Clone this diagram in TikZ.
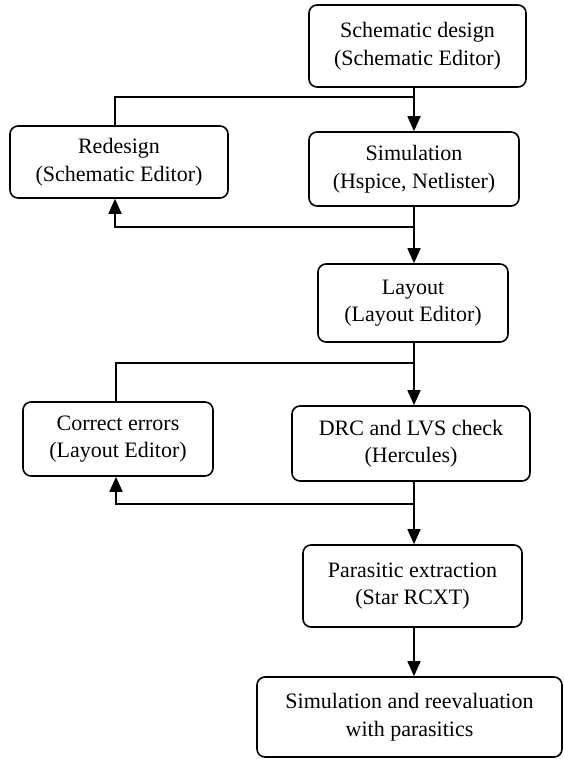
\documentclass[tikz,border=0pt]{standalone}
\usepackage{fontspec}
\setmainfont{Liberation Serif}
\newfontfamily\tnrfont{Liberation Serif}
\usetikzlibrary{arrows.meta}
\begin{document}
\begin{tikzpicture}[x=1pt,y=-1pt,
  box/.style={draw, line width=1.6pt, rounded corners=8pt, align=center,
    font=\tnrfont\fontsize{22}{27.5}\selectfont, inner sep=0pt,
    execute at begin node={\rule{0pt}{27pt}}},
  conn/.style={line width=1.6pt},
  arr/.style={conn, -{Triangle[length=15pt,width=13pt]}}]
\useasboundingbox (0,0) rectangle (563,759);

\node[box, minimum width=217pt, minimum height=82pt] (sch) at (417.5,46) {Schematic design\\(Schematic Editor)};
\node[box, minimum width=210pt, minimum height=74pt] (sim) at (414,169) {Simulation\\(Hspice, Netlister)};
\node[box, minimum width=218pt, minimum height=72pt] (red) at (119,162) {Redesign\\(Schematic Editor)};
\node[box, minimum width=190pt, minimum height=78pt] (lay) at (413,303) {Layout\\(Layout Editor)};
\node[box, minimum width=190pt, minimum height=74pt] (cor) at (118,439) {Correct errors\\(Layout Editor)};
\node[box, minimum width=238pt, minimum height=75pt] (drc) at (411,443.5) {DRC and LVS check\\(Hercules)};
\node[box, minimum width=219pt, minimum height=82pt] (par) at (412.5,586) {Parasitic extraction\\(Star RCXT)};
\node[box, minimum width=305pt, minimum height=80pt] (fin) at (409.5,717) {Simulation and reevaluation\\with parasitics};

\coordinate (j1) at (414,97);
\coordinate (l1) at (115,97);
\coordinate (j2) at (414,227);
\coordinate (l2) at (115,227);
\coordinate (j3) at (414,363);
\coordinate (l3) at (116,363);
\coordinate (j4) at (414,504);
\coordinate (l4) at (116,504);

% main spine
\draw[arr] (sch.south -| j1) -- (sim.north -| j1);
\draw[arr] (sim.south -| j2) -- (lay.north -| j2);
\draw[arr] (lay.south -| j3) -- (drc.north -| j3);
\draw[arr] (drc.south -| j4) -- (par.north -| j4);
\draw[arr] (par.south -| j4) -- (fin.north -| j4);

% feedback loops
\draw[conn] (j1) -- (l1) -- (l1 |- red.north);
\draw[arr] (j2) -- (l2) -- (l2 |- red.south);
\draw[conn] (j3) -- (l3) -- (l3 |- cor.north);
\draw[arr] (j4) -- (l4) -- (l4 |- cor.south);
\end{tikzpicture}
\end{document}
